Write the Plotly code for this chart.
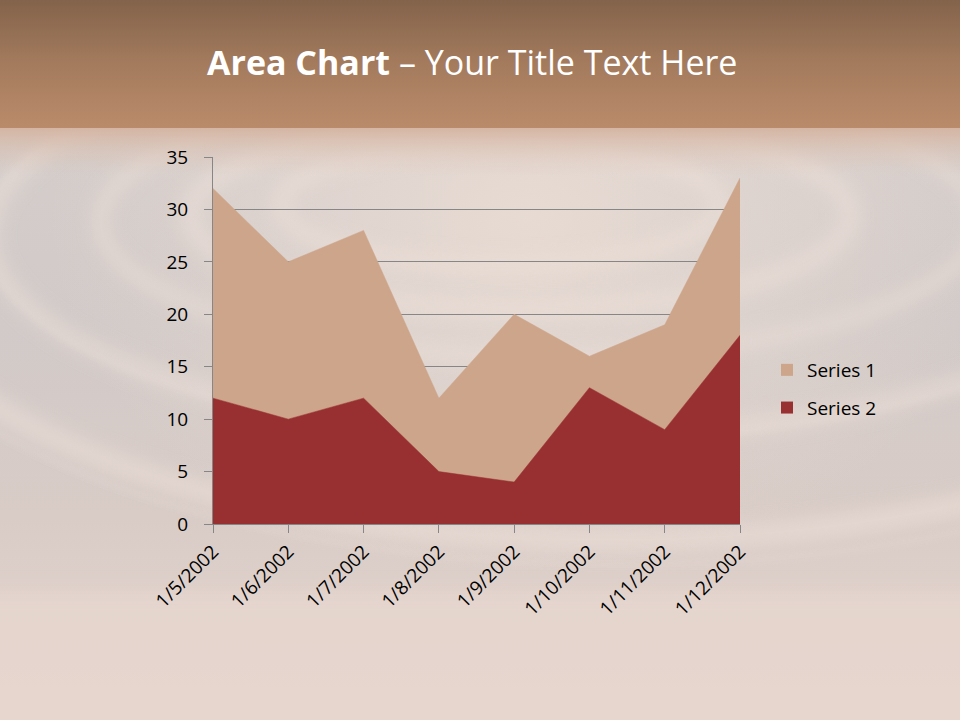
import base64
import plotly.graph_objects as go

categories = ["1/5/2002", "1/6/2002", "1/7/2002", "1/8/2002",
              "1/9/2002", "1/10/2002", "1/11/2002", "1/12/2002"]
series1 = [32, 25, 28, 12, 20, 16, 19, 33]
series2 = [12, 10, 12, 5, 4, 13, 9, 18]
y_ticks = [0, 5, 10, 15, 20, 25, 30, 35]
series_names = ["Series 1", "Series 2"]
series_colors = ["#cda58b", "#983032"]

W, H = 960, 720
ML, MR, MT, MB = 213, 220, 157, 196
PW, PH = W - ML - MR, H - MT - MB

svg = f'''<svg xmlns="http://www.w3.org/2000/svg" width="{W}" height="{H}" viewBox="0 0 {W} {H}">
<defs>
<linearGradient id="bg" x1="0" y1="0" x2="0" y2="1">
<stop offset="0" stop-color="#d6cfcc"/>
<stop offset="0.45" stop-color="#d1cac8"/>
<stop offset="0.72" stop-color="#d9ccc7"/>
<stop offset="1" stop-color="#e4d3cb"/>
</linearGradient>
<linearGradient id="top" x1="0" y1="0" x2="0" y2="1">
<stop offset="0" stop-color="#83634b"/>
<stop offset="0.5" stop-color="#a47b5d"/>
<stop offset="1" stop-color="#ba8b6b"/>
</linearGradient>
<linearGradient id="fade" x1="0" y1="0" x2="0" y2="1">
<stop offset="0" stop-color="#d4b3a0" stop-opacity="1"/>
<stop offset="1" stop-color="#dcc8bd" stop-opacity="0"/>
</linearGradient>
<radialGradient id="glow" cx="0.55" cy="0.3" r="0.5">
<stop offset="0" stop-color="#eadcd4" stop-opacity="0.9"/>
<stop offset="1" stop-color="#eadcd4" stop-opacity="0"/>
</radialGradient>
<filter id="blur" x="-20%" y="-20%" width="140%" height="140%"><feGaussianBlur stdDeviation="9"/></filter>
<filter id="blur2" x="-20%" y="-20%" width="140%" height="140%"><feGaussianBlur stdDeviation="3"/></filter>
</defs>
<rect width="{W}" height="{H}" fill="url(#bg)"/>
<rect width="{W}" height="{H}" fill="url(#glow)"/>
<g fill="none" stroke="#efe1d9" filter="url(#blur)" opacity="0.6">
<ellipse cx="520" cy="215" rx="330" ry="95" stroke-width="16"/>
<ellipse cx="540" cy="222" rx="440" ry="135" stroke-width="12"/>
<ellipse cx="570" cy="235" rx="580" ry="200" stroke-width="14"/>
<ellipse cx="610" cy="250" rx="730" ry="290" stroke-width="18"/>
<ellipse cx="500" cy="205" rx="220" ry="60" stroke-width="14"/>
</g>
<g fill="none" stroke="#f4e9e3" filter="url(#blur2)" opacity="0.35">
<ellipse cx="570" cy="235" rx="585" ry="205" stroke-width="2"/>
<ellipse cx="620" cy="255" rx="760" ry="310" stroke-width="2"/>
</g>
<rect x="-50" y="590" width="1060" height="180" fill="#e9d9d1" opacity="0.6" filter="url(#blur)"/>
<rect x="0" y="126" width="{W}" height="50" fill="url(#fade)"/>
<rect x="0" y="0" width="{W}" height="128" fill="url(#top)"/>
</svg>'''
bg_uri = "data:image/svg+xml;base64," + base64.b64encode(svg.encode()).decode()

fig = go.Figure()
for name, vals, col in zip(series_names, [series1, series2], series_colors):
    fig.add_trace(go.Scatter(
        x=categories, y=vals, name=name, mode="lines", showlegend=False,
        fill="tozeroy", fillcolor=col, line=dict(color=col, width=0.5),
        hoverinfo="skip"))
for name, col in zip(series_names, series_colors):
    fig.add_trace(go.Scatter(
        x=[None], y=[None], name=name, mode="markers", legendgroup=name,
        marker=dict(symbol="square", size=12, color=col)))

font_family = "Open Sans, Noto Sans, sans-serif"

fig.update_layout(
    width=W, height=H,
    margin=dict(l=ML, r=MR, t=MT, b=MB, pad=0),
    paper_bgcolor="rgba(0,0,0,0)",
    plot_bgcolor="rgba(0,0,0,0)",
    showlegend=True,
    legend=dict(x=(767 - ML) / PW, y=1 - (389 - MT) / PH, xanchor="left", yanchor="middle",
                font=dict(family=font_family, size=19, color="#000000"),
                bgcolor="rgba(0,0,0,0)", traceorder="grouped",
                tracegroupgap=10, itemwidth=30),
    images=[dict(source=bg_uri, xref="paper", yref="paper",
                 x=-ML / PW, y=1 + MT / PH, sizex=W / PW, sizey=H / PH,
                 xanchor="left", yanchor="top", sizing="stretch",
                 layer="below", opacity=1)],
    annotations=[dict(
        text="<b>Area Chart</b> – Your Title Text Here",
        xref="paper", yref="paper",
        x=(472 - ML) / PW, y=1 + (MT - 62) / PH,
        xanchor="center", yanchor="middle", showarrow=False,
        font=dict(family=font_family, size=34, color="#ffffff"))],
    xaxis=dict(
        type="category", range=[0, len(categories) - 1],
        showgrid=False, showline=True, linecolor="#868686", linewidth=1,
        ticks="outside", ticklen=8, tickcolor="#868686",
        tickangle=-45, tickfont=dict(family=font_family, size=19, color="#000000"),
        zeroline=False),
    yaxis=dict(
        range=[0, 35], tickvals=y_ticks,
        showgrid=True, gridcolor="#868686", gridwidth=1,
        showline=True, linecolor="#868686", linewidth=1,
        ticks="outside", ticklen=8, tickcolor="#868686",
        ticklabelstandoff=12,
        tickfont=dict(family=font_family, size=19, color="#000000"),
        zeroline=False),
)

fig.write_html("out.html", config={"displayModeBar": False},
               post_script="document.body.style.margin='0';document.body.style.overflow='hidden';")
